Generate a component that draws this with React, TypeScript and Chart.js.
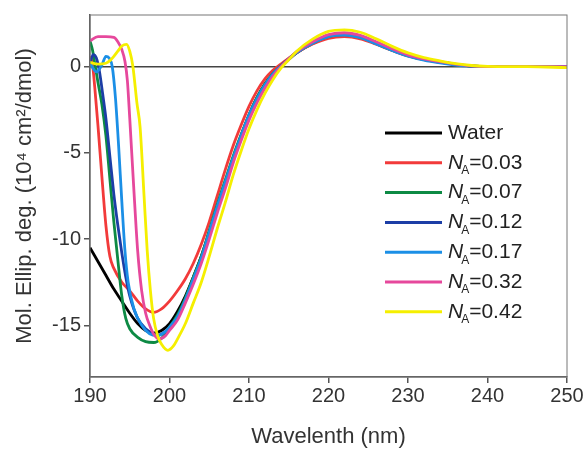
import React, { useEffect, useRef } from "react";
import { Chart, registerables } from "chart.js";

Chart.register(...registerables);

const FONT = '"Liberation Sans", Arial, Helvetica, sans-serif';
const TEXT = "#333333";
const AXIS = "#555555";

const xTickValues = [190, 200, 210, 220, 230, 240, 250];
const yTickValues = [0, -5, -10, -15];

const seriesLabels = ["Water", "0.03", "0.07", "0.12", "0.17", "0.32", "0.42"];
const seriesColors = ["#000000", "#f23a3a", "#0d8a44", "#1c3ea6", "#1b8fe6", "#e6489c", "#f5ef00"];

// left (short-wavelength) part of each spectrum
const waterNm = [190, 191, 192, 193, 194, 195, 196, 197, 198, 199, 200];
const waterVal = [-10.5, -11.3, -12.1, -12.9, -13.6, -14.3, -14.9, -15.3, -15.45, -15.3, -14.9];

const na003Nm = [190, 190.3, 190.6, 191, 191.5, 192, 192.5, 193, 194, 195, 196, 197, 198, 199, 200];
const na003Val = [0.6, 0.2, -1.2, -3.4, -6.4, -9.2, -11.0, -11.7, -12.5, -13.0, -13.6, -14.05, -14.25, -14.05, -13.6];

const na007Nm = [190, 190.3, 190.6, 191, 191.5, 192, 192.5, 193, 193.5, 194, 194.5, 195, 196, 197, 198, 199, 200];
const na007Val = [1.5, 1.0, 0.2, -0.9, -2.2, -4.0, -6.5, -9.0, -11.2, -13.3, -14.6, -15.2, -15.7, -15.95, -16.0, -15.75, -15.1];

const na012Nm = [190, 190.4, 190.8, 191.2, 191.6, 192, 192.5, 193, 193.5, 194, 194.5, 195, 196, 197, 198, 198.5, 199, 200];
const na012Val = [0.2, 0.7, 0.5, -0.3, -1.6, -3.0, -5.2, -7.4, -9.2, -10.8, -12.2, -13.3, -14.6, -15.2, -15.5, -15.6, -15.5, -15.2];

const na017Nm = [190, 190.8, 191.5, 192, 192.4, 192.8, 193.2, 193.6, 194, 194.4, 194.8, 195.5, 196.5, 197.5, 198.5, 199.5, 200];
const na017Val = [0.2, -0.3, 0.1, 0.6, 0.5, 0.0, -1.8, -4.6, -7.8, -10.7, -12.5, -14.0, -15.0, -15.5, -15.6, -15.35, -15.1];

const na032Nm = [190, 191, 192, 193, 193.5, 194, 194.4, 194.7, 195, 195.5, 196, 196.5, 197, 197.5, 198, 198.7, 199.5, 200];
const na032Val = [1.5, 1.75, 1.75, 1.7, 1.45, 1.0, 0.3, -0.8, -3.0, -7.0, -10.7, -13.0, -14.3, -15.0, -15.5, -15.8, -15.6, -15.3];

const na042Nm = [190, 191, 192, 192.5, 193, 193.5, 194, 194.6, 195, 195.4, 195.9, 196.3, 196.8, 197.2, 197.6, 198, 198.5, 199, 199.8, 200.5];
const na042Val = [0.25, 0.15, 0.2, 0.35, 0.6, 0.9, 1.2, 1.3, 0.9, 0.0, -2.1, -3.5, -7.5, -10.7, -13.0, -14.6, -15.6, -16.1, -16.45, -16.2];

// right (long-wavelength) part, shared wavelength grid
const rightNm = [201, 202, 203, 204, 205, 206, 207, 208, 209, 210, 211, 212, 213, 214, 215, 216, 218, 220, 222, 224, 226, 228, 230, 232, 234, 236, 238, 240, 245, 250];
const waterRight = [-14.2, -13.3, -12.2, -11.0, -9.6, -8.1, -6.7, -5.3, -4.0, -2.8, -1.8, -1.0, -0.4, 0.05, 0.42, 0.8, 1.35, 1.72, 1.82, 1.67, 1.33, 0.96, 0.64, 0.42, 0.27, 0.13, 0.04, 0, 0, 0];
const na003Right = [-13.0, -12.3, -11.4, -10.3, -9.0, -7.5, -6.0, -4.6, -3.4, -2.3, -1.4, -0.7, -0.2, 0.15, 0.5, 0.82, 1.32, 1.65, 1.74, 1.62, 1.3, 0.94, 0.62, 0.41, 0.26, 0.12, 0.04, 0, 0, 0];
const na007Right = [-14.4, -13.4, -12.2, -11.0, -9.5, -8.0, -6.6, -5.2, -3.95, -2.8, -1.8, -1.0, -0.4, 0.05, 0.45, 0.85, 1.38, 1.76, 1.86, 1.71, 1.36, 0.97, 0.65, 0.43, 0.28, 0.14, 0.05, 0.01, 0, 0];
const na012Right = [-14.6, -13.6, -12.4, -11.2, -9.7, -8.2, -6.8, -5.4, -4.1, -2.9, -1.9, -1.1, -0.45, 0.03, 0.45, 0.85, 1.4, 1.8, 1.9, 1.75, 1.38, 0.99, 0.66, 0.44, 0.28, 0.14, 0.05, 0.01, 0, 0];
const na017Right = [-14.5, -13.5, -12.3, -11.1, -9.6, -8.1, -6.7, -5.3, -4.0, -2.8, -1.85, -1.05, -0.42, 0.03, 0.45, 0.82, 1.36, 1.75, 1.83, 1.68, 1.32, 0.94, 0.61, 0.38, 0.22, 0.1, 0.03, 0, 0, 0];
const na032Right = [-14.7, -13.7, -12.6, -11.4, -10.0, -8.5, -7.1, -5.6, -4.3, -3.1, -2.1, -1.25, -0.55, 0.0, 0.45, 0.87, 1.45, 1.86, 1.97, 1.82, 1.45, 1.04, 0.69, 0.46, 0.29, 0.15, 0.05, 0.01, 0, 0];
const na042Right = [-15.8, -14.9, -13.7, -12.5, -11.0, -9.4, -7.9, -6.3, -4.9, -3.6, -2.5, -1.55, -0.75, -0.1, 0.4, 0.9, 1.6, 2.05, 2.14, 2.0, 1.62, 1.18, 0.8, 0.53, 0.34, 0.18, 0.07, 0.02, 0, -0.05];

const leftNm = [waterNm, na003Nm, na007Nm, na012Nm, na017Nm, na032Nm, na042Nm];
const leftVal = [waterVal, na003Val, na007Val, na012Val, na017Val, na032Val, na042Val];
const rightVal = [waterRight, na003Right, na007Right, na012Right, na017Right, na032Right, na042Right];

const frameLegendPlugin = {
  id: "frameLegend",
  beforeDatasetsDraw(chart: any) {
    const { ctx, chartArea, scales } = chart;
    const y0 = scales.y.getPixelForValue(0);
    ctx.save();
    ctx.strokeStyle = "#444444";
    ctx.lineWidth = 1.5;
    ctx.beginPath();
    ctx.moveTo(chartArea.left, y0);
    ctx.lineTo(chartArea.right, y0);
    ctx.stroke();
    ctx.restore();
  },
  afterDraw(chart: any) {
    const { ctx, chartArea } = chart;
    ctx.save();
    ctx.strokeStyle = "#777777";
    ctx.lineWidth = 1;
    ctx.strokeRect(chartArea.left, chartArea.top, chartArea.right - chartArea.left, chartArea.bottom - chartArea.top);
    // legend
    const lx0 = 385, lx1 = 442, tx = 448, top = 133, step = 29.8;
    ctx.textBaseline = "middle";
    ctx.textAlign = "left";
    seriesLabels.forEach((lab, i) => {
      const y = top + i * step;
      ctx.strokeStyle = seriesColors[i];
      ctx.lineWidth = 3;
      ctx.beginPath();
      ctx.moveTo(lx0, y);
      ctx.lineTo(lx1, y);
      ctx.stroke();
      ctx.fillStyle = "#222222";
      if (i === 0) {
        ctx.font = `21px ${FONT}`;
        ctx.fillText(lab, tx, y);
      } else {
        ctx.font = `italic 21px ${FONT}`;
        ctx.fillText("N", tx, y);
        const wN = ctx.measureText("N").width;
        ctx.font = `12px ${FONT}`;
        ctx.fillText("A", tx + wN - 2, y + 8);
        const wA = ctx.measureText("A").width;
        ctx.font = `21px ${FONT}`;
        ctx.fillText("=" + lab, tx + wN + wA - 2, y);
      }
    });
    ctx.restore();
  },
};

export default function App() {
  const canvasRef = useRef<HTMLCanvasElement | null>(null);

  useEffect(() => {
    const canvas = canvasRef.current;
    if (!canvas) return;
    const datasets = seriesLabels.map((lab, i) => ({
      label: lab,
      data: leftNm[i]
        .map((x, j) => ({ x, y: leftVal[i][j] }))
        .concat(rightNm.map((x, j) => ({ x, y: rightVal[i][j] }))),
      borderColor: seriesColors[i],
      backgroundColor: seriesColors[i],
      borderWidth: 2.8,
      pointRadius: 0,
      cubicInterpolationMode: "monotone" as const,
      fill: false,
      order: seriesLabels.length - i,
    }));
    const chart = new Chart(canvas, {
      type: "line",
      data: { datasets },
      options: {
        responsive: false,
        animation: false,
        layout: { padding: { top: 13, right: 21, left: 0, bottom: 0 } },
        plugins: { legend: { display: false }, tooltip: { enabled: false } },
        scales: {
          x: {
            type: "linear",
            min: 190,
            max: 250,
            afterFit: (s: any) => { s.height = 73; },
            afterBuildTicks: (s: any) => { s.ticks = xTickValues.map((v) => ({ value: v })); },
            ticks: { color: TEXT, font: { family: FONT, size: 20 }, padding: 1, maxRotation: 0 },
            grid: { drawOnChartArea: false, drawTicks: true, tickLength: 6, color: AXIS, lineWidth: 1.5 },
            border: { display: true, color: AXIS, width: 1.5 },
            title: { display: true, text: "Wavelenth (nm)", color: TEXT, font: { family: FONT, size: 22 }, padding: { bottom: 0, top: 0 } },
          },
          y: {
            type: "linear",
            min: -18,
            max: 3,
            afterFit: (s: any) => { s.width = 90; },
            afterBuildTicks: (s: any) => { s.ticks = yTickValues.map((v) => ({ value: v })); },
            ticks: { color: TEXT, font: { family: FONT, size: 20 }, padding: 3 },
            grid: { drawOnChartArea: false, drawTicks: true, tickLength: 6, color: AXIS, lineWidth: 1.5 },
            border: { display: true, color: AXIS, width: 1.5 },
            title: { display: true, text: "Mol. Ellip. deg. (10⁴ cm²/dmol)", color: TEXT, font: { family: FONT, size: 22 }, padding: { top: 12, bottom: 0 } },
          },
        },
      },
      plugins: [frameLegendPlugin],
    });
    return () => chart.destroy();
  }, []);

  return (
    <div style={{ position: "absolute", left: 0, top: 0, width: 588, height: 450, background: "#ffffff" }}>
      <canvas ref={canvasRef} width={588} height={450} style={{ display: "block" }} />
    </div>
  );
}
